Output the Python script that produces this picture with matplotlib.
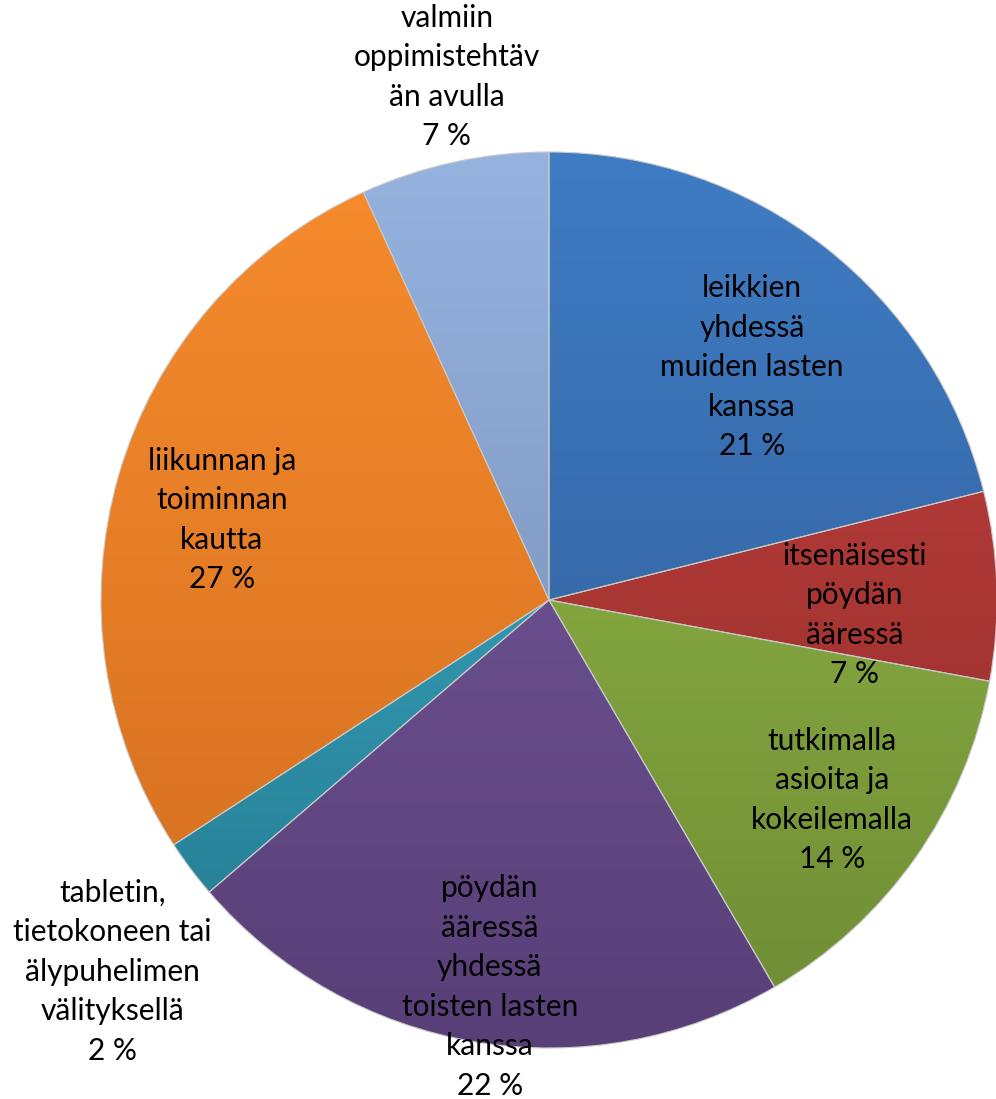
import matplotlib.pyplot as plt
import numpy as np
from matplotlib.colors import LinearSegmentedColormap

plt.rcParams['font.family'] = ['Lato', 'DejaVu Sans']

# slice data, clockwise from 12 o'clock
labels = [
    "leikkien\nyhdessä\nmuiden lasten\nkanssa",
    "itsenäisesti\npöydän\nääressä",
    "tutkimalla\nasioita ja\nkokeilemalla",
    "pöydän\nääressä\nyhdessä\ntoisten lasten\nkanssa",
    "tabletin,\ntietokoneen tai\nälypuhelimen\nvälityksellä",
    "liikunnan ja\ntoiminnan\nkautta",
    "valmiin\noppimistehtäv\nän avulla",
]
shares = [21.1, 6.8, 13.7, 22.1, 2.1, 27.4, 6.8]

# light (top) / dark (bottom) fill colours
light = ["#3f7cc4", "#c4423e", "#98bf4c", "#7b5da3", "#42b5cf", "#f78c2d", "#96b3e0"]
dark = ["#2e5891", "#8e2b29", "#6e8b33", "#583f77", "#22788e", "#d16d1f", "#6e86ac"]

# label centres in pie-radius units
label_xy = [(0.453, 0.52), (0.683, -0.033), (0.632, -0.446), (-0.132, -0.864),
            (-0.975, -0.83), (-0.73, 0.179), (-0.228, 1.167)]

fig = plt.figure(figsize=(9.96, 10.99), dpi=100)
ax = fig.add_axes([0.1014, 0.0464, 0.8996, 0.8153])

wedges, _ = ax.pie(shares, startangle=90, counterclock=False, radius=1,
                   wedgeprops=dict(edgecolor="#c8c8c8", linewidth=0.8))

grad = np.linspace(0, 1, 256).reshape(-1, 1)
for w, c0, c1 in zip(wedges, light, dark):
    w.set_facecolor("none")
    cmap = LinearSegmentedColormap.from_list("g", [c0, c1])
    im = ax.imshow(grad, cmap=cmap, extent=[-1, 1, -1, 1], origin="upper",
                   aspect="auto", zorder=1)
    im.set_clip_path(w)
    w.set_zorder(2)

for lab, s, (x, y) in zip(labels, shares, label_xy):
    ax.text(x, y, f"{lab}\n{round(s)} %", ha="center", va="center",
            fontsize=21.5, linespacing=1.5, color="black", clip_on=False, zorder=3)

ax.set_xlim(-1, 1)
ax.set_ylim(-1, 1)
ax.set_aspect("auto")
ax.axis("off")

fig.savefig("out.png", dpi=100)
